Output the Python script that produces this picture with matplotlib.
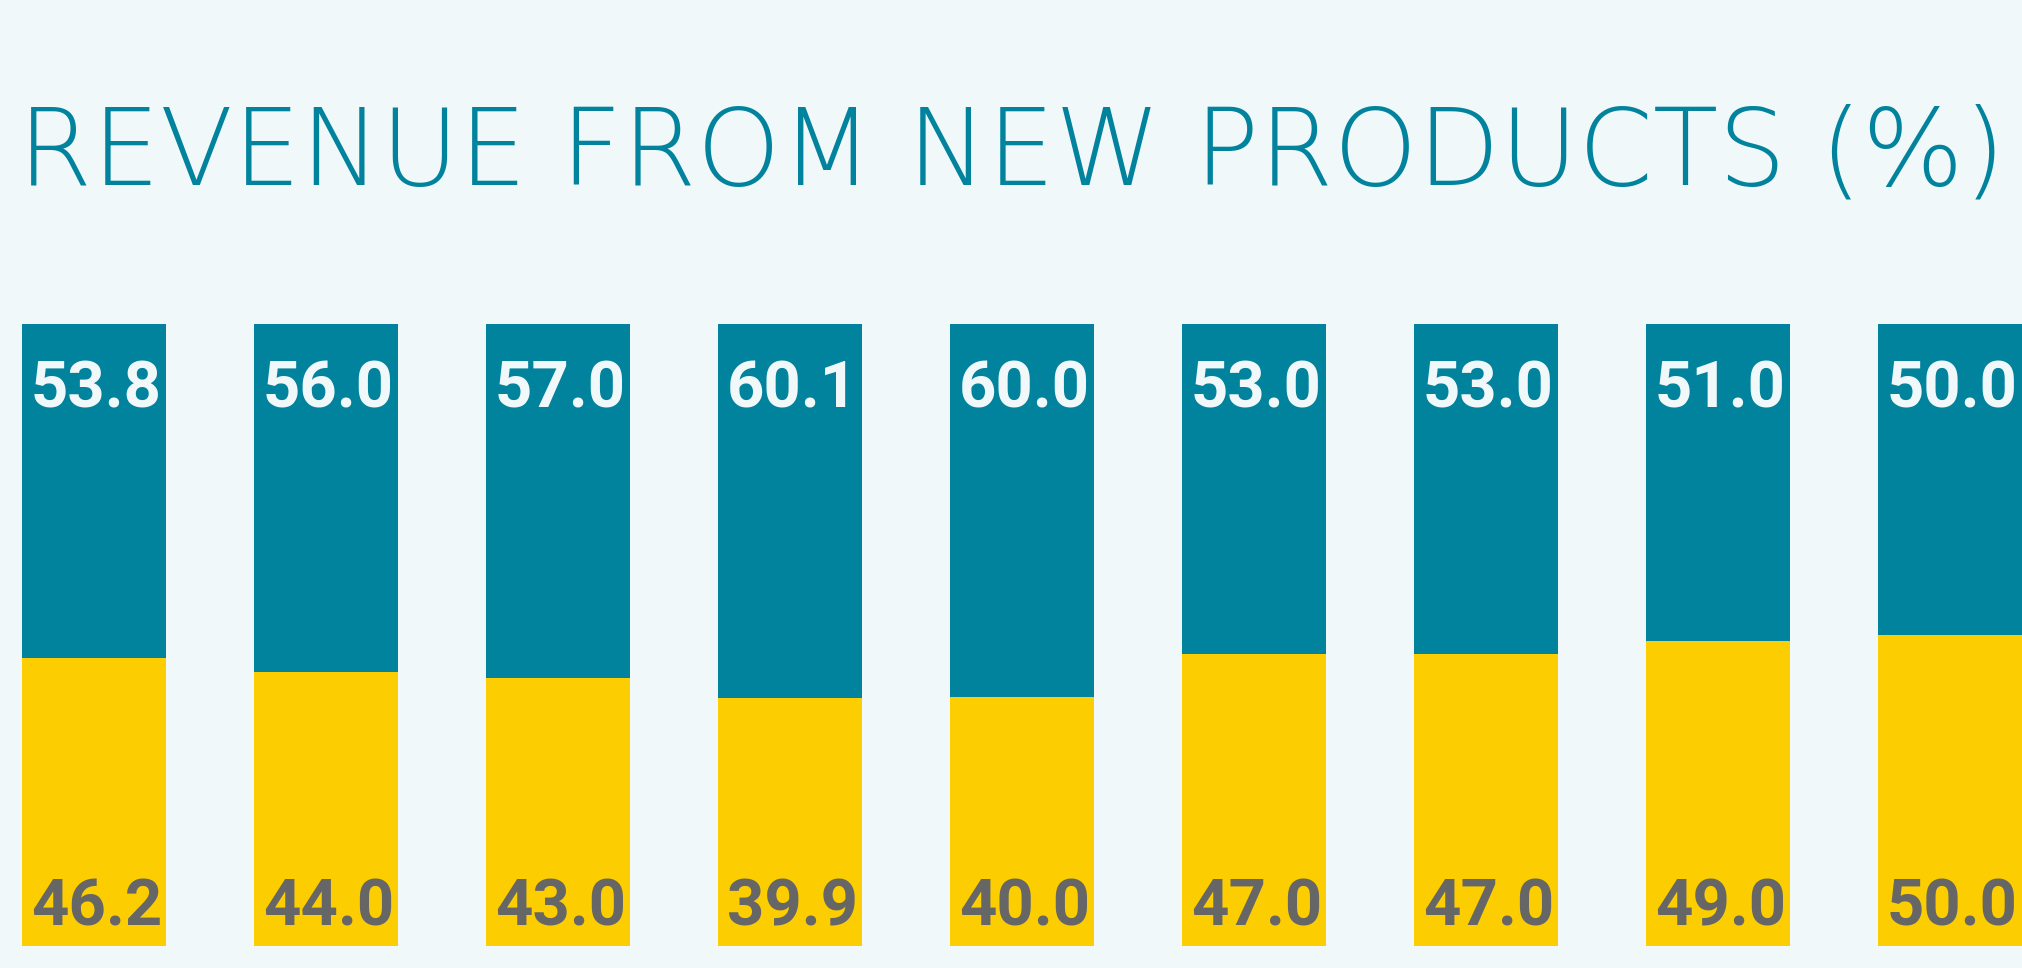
import matplotlib
matplotlib.use("Agg")
import matplotlib.pyplot as plt

# data
years = ["Y1", "Y2", "Y3", "Y4", "Y5", "Y6", "Y7", "Y8", "Y9"]
new_products = [53.8, 56.0, 57.0, 60.1, 60.0, 53.0, 53.0, 51.0, 50.0]
other_products = [46.2, 44.0, 43.0, 39.9, 40.0, 47.0, 47.0, 49.0, 50.0]

TEAL = "#01839e"
YELLOW = "#fccd00"
BG = "#f0f8fa"
GREY = "#666666"

W, H = 2022, 968
fig = plt.figure(figsize=(W / 100, H / 100), dpi=100)
fig.patch.set_facecolor(BG)

# axes placed so that the bars span the pixel area of the reference
ax = fig.add_axes([0, 22.3 / H, 1, 621.7 / H])
ax.set_facecolor(BG)
ax.set_xlim(-94 / 232, (W - 94) / 232)
ax.set_ylim(0, 100)
ax.axis("off")

x = list(range(len(years)))
bw = 144 / 232
ax.bar(x, other_products, width=bw, color=YELLOW, linewidth=0)
ax.bar(x, new_products, width=bw, bottom=other_products, color=TEAL, linewidth=0)

lbl = dict(ha="left", fontsize=47, fontweight="bold", family="Roboto")
for i in x:
    left = i - bw / 2
    ax.annotate(f"{new_products[i]:.1f}", (left, other_products[i] + new_products[i]),
                xytext=(9, -36), textcoords="offset pixels",
                va="top", color=BG, **lbl)
    ax.annotate(f"{other_products[i]:.1f}", (left, 0),
                xytext=(9, 20), textcoords="offset pixels",
                va="baseline", color=GREY, **lbl)

fig.text(18 / W, 1 - 184.4 / H, "REVENUE FROM NEW PRODUCTS (%)",
         ha="left", va="baseline", fontsize=77, fontweight="light",
         family="DejaVu Sans", color=TEAL)

fig.savefig("out.png", dpi=100, facecolor=BG)
